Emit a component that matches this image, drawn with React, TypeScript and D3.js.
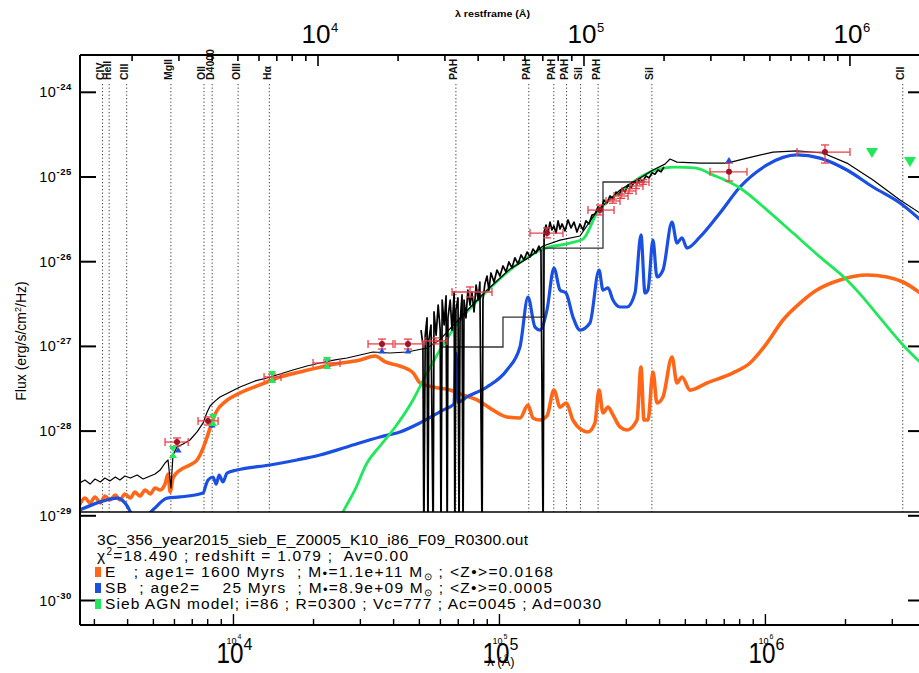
import React from "react";
import * as d3 from "d3";

type Pt = [number, number];

const REDSHIFT = 1.079;

// rest-frame wavelength (µm), flux density (erg/s/cm²/Hz)
const elliptical: Pt[] = [[0.127,1.34e-29],[0.133,1.62e-29],[0.139,1.42e-29],[0.145,1.67e-29],[0.152,1.42e-29],[0.158,1.71e-29],[0.165,1.54e-29],[0.173,1.76e-29],[0.180,1.54e-29],[0.188,1.81e-29],[0.197,1.62e-29],[0.205,1.91e-29],[0.214,1.71e-29],[0.224,2.02e-29],[0.234,1.81e-29],[0.244,2.13e-29],[0.255,2.02e-29],[0.266,2.37e-29],[0.273,3.12e-29],[0.278,1.91e-29],[0.285,2.79e-29],[0.303,3.47e-29],[0.330,3.98e-29],[0.351,4.56e-29],[0.370,6.32e-29],[0.383,8.53e-29],[0.396,1.18e-28],[0.414,1.68e-28],[0.447,2.21e-28],[0.509,2.82e-28],[0.605,3.51e-28],[0.720,4.36e-28],[0.856,4.99e-28],[1.11,6.04e-28],[1.44,6.92e-28],[1.64,7.71e-28],[1.79,6.55e-28],[2.03,5.87e-28],[2.28,4.86e-28],[2.42,3.70e-28],[2.71,3.32e-28],[3.14,3.05e-28],[3.51,2.67e-28],[3.96,2.33e-28],[4.43,1.87e-28],[5.13,1.47e-28],[5.75,1.43e-28],[6.16,2.03e-28],[6.43,1.43e-28],[6.83,1.35e-28],[7.26,1.51e-28],[7.71,3.05e-28],[8.13,1.92e-28],[8.56,2.15e-28],[9.09,1.35e-28],[9.83,1.03e-28],[10.35,9.77e-29],[11.0,1.25e-28],[11.39,3.05e-28],[11.79,1.64e-28],[12.31,1.92e-28],[12.74,1.64e-28],[13.66,1.12e-28],[14.51,1.03e-28],[15.82,1.35e-28],[16.38,5.71e-28],[16.81,1.35e-28],[17.40,1.35e-28],[18.17,4.99e-28],[18.81,2.15e-28],[19.82,2.53e-28],[21.42,7.50e-28],[22.37,3.70e-28],[23.36,4.36e-28],[25.03,3.05e-28],[29.0,3.70e-28],[36.3,4.86e-28],[42.1,6.37e-28],[48.8,1.10e-27],[56.0,2.05e-27],[64.9,3.25e-27],[75.1,4.63e-27],[91.7,6.08e-27],[115.9,6.97e-27],[137.8,6.60e-27],[158.2,5.76e-27],[188.2,4.04e-27]];

const starburst: Pt[] = [[0.127,1.17e-29],[0.152,1.46e-29],[0.176,1.62e-29],[0.188,1.42e-29],[0.200,1.02e-29],[0.214,6.79e-30],[0.230,1.02e-29],[0.244,1.24e-29],[0.271,1.62e-29],[0.303,1.67e-29],[0.370,1.86e-29],[0.379,2.31e-29],[0.386,2.65e-29],[0.403,2.87e-29],[0.414,2.37e-29],[0.425,3.03e-29],[0.439,2.51e-29],[0.455,3.20e-29],[0.496,3.47e-29],[0.660,3.98e-29],[0.834,4.56e-29],[1.017,5.22e-29],[1.285,6.50e-29],[1.711,8.53e-29],[2.033,9.77e-29],[2.418,1.25e-28],[2.951,1.77e-28],[3.245,2.09e-28],[3.302,8.36e-28],[3.360,2.20e-28],[3.632,2.53e-28],[4.319,3.32e-28],[5.134,5.27e-28],[5.745,9.84e-28],[6.160,3.83e-27],[6.545,1.69e-27],[6.833,1.56e-27],[7.259,2.69e-27],[7.714,8.43e-27],[8.125,4.63e-27],[8.557,4.27e-27],[9.092,2.22e-27],[9.660,1.56e-27],[10.53,1.89e-27],[11.39,7.98e-27],[11.79,4.63e-27],[12.31,4.90e-27],[12.85,3.53e-27],[13.66,2.92e-27],[14.51,2.92e-27],[15.55,4.27e-27],[16.38,2.07e-26],[16.96,4.27e-27],[17.40,4.63e-27],[18.17,1.80e-26],[18.81,6.60e-27],[19.82,7.98e-27],[21.42,2.94e-26],[22.37,1.66e-26],[23.36,1.91e-26],[24.39,1.45e-26],[27.31,1.96e-26],[32.45,3.76e-26],[38.6,7.62e-26],[48.8,1.39e-25],[63.2,1.82e-25],[77.1,1.67e-25],[97.4,1.21e-25],[122.1,7.62e-26],[154.2,4.93e-26],[188.2,2.94e-26]];

const agnTorus: Pt[] = [[1.159,6.79e-30],[1.242,1.11e-29],[1.377,2.02e-29],[1.528,4.20e-29],[1.711,6.67e-29],[1.914,1.03e-28],[2.276,2.33e-28],[2.525,4.36e-28],[2.875,9.08e-28],[3.420,2.05e-27],[4.245,4.27e-27],[5.272,7.98e-27],[7.015,1.41e-26],[8.858,1.66e-26],[9.913,1.85e-26],[11.19,3.76e-26],[13.66,6.65e-26],[18.17,1.18e-25],[21.99,1.31e-25],[26.1,1.28e-25],[30.5,1.06e-25],[38.6,7.41e-26],[48.8,4.07e-26],[61.1,2.18e-26],[77.1,1.14e-26],[97.4,6.08e-27],[115.9,3.34e-27],[129.7,2.17e-27],[158.2,1.04e-27],[188.2,6.04e-28]];

const totalModel: Pt[] = [[0.127,2.44e-29],[0.133,2.65e-29],[0.139,2.37e-29],[0.145,2.72e-29],[0.152,2.51e-29],[0.158,2.79e-29],[0.165,2.58e-29],[0.173,2.87e-29],[0.180,2.65e-29],[0.188,2.95e-29],[0.197,2.79e-29],[0.209,3.03e-29],[0.220,2.72e-29],[0.234,2.95e-29],[0.244,3.12e-29],[0.255,3.47e-29],[0.266,4.20e-29],[0.273,4.56e-29],[0.280,2.13e-29],[0.285,5.22e-29],[0.295,6.50e-29],[0.311,7.05e-29],[0.330,7.85e-29],[0.351,9.77e-29],[0.370,1.25e-28],[0.383,1.68e-28],[0.393,1.98e-28],[0.410,2.26e-28],[0.428,2.53e-28],[0.467,2.90e-28],[0.509,3.32e-28],[0.580,3.91e-28],[0.643,4.24e-28],[0.720,4.72e-28],[0.805,5.27e-28],[0.909,5.87e-28],[1.017,6.37e-28],[1.159,6.92e-28],[1.285,7.30e-28],[1.439,7.92e-28],[1.609,8.59e-28],[1.865,8.36e-28],[2.161,8.59e-28],[2.569,9.57e-28],[2.875,1.20e-27],[3.420,2.17e-27],[4.245,4.39e-27],[5.272,8.20e-27],[6.266,1.14e-26],[7.015,1.53e-26],[8.125,1.80e-26],[9.660,2.01e-26],[11.19,3.96e-26],[13.66,7.02e-26],[16.24,9.73e-26],[18.17,1.21e-25],[20.16,1.42e-25],[21.06,1.63e-25],[22.37,1.50e-25],[27.31,1.46e-25],[34.49,1.46e-25],[41.01,1.67e-25],[51.35,1.97e-25],[63.2,2.03e-25],[79.15,1.92e-25],[97.4,1.46e-25],[122.1,9.22e-26],[154.2,5.35e-26],[188.2,3.56e-26]];

// Spitzer IRS spectrum (noisy, with drop-outs)
const irsSpectrum: Pt[] = [[2.44,1.56e-27],[2.48,1.04e-27],[2.50,5e-30],[2.53,1.36e-27],[2.57,2.17e-27],[2.59,5e-30],[2.61,1.19e-27],[2.66,1.79e-27],[2.71,5e-30],[2.73,2.55e-27],[2.78,1.36e-27],[2.83,3.08e-27],[2.88,1.56e-27],[2.90,5e-30],[2.93,3.53e-27],[2.98,1.79e-27],[3.03,3.94e-27],[3.06,5e-30],[3.08,2.17e-27],[3.14,3.53e-27],[3.19,1.56e-27],[3.25,4.39e-27],[3.27,5e-30],[3.30,2.69e-27],[3.36,3.73e-27],[3.39,5e-30],[3.42,1.94e-27],[3.48,4.05e-27],[3.51,5e-30],[3.54,3.53e-27],[3.60,2.17e-27],[3.66,4.63e-27],[3.73,3.08e-27],[3.79,4.39e-27],[3.86,2.55e-27],[3.93,5.31e-27],[4.00,3.53e-27],[4.06,5.75e-27],[4.14,5e-30],[4.17,3.53e-27],[4.24,5.46e-27],[4.32,6.78e-27],[4.39,4.63e-27],[4.47,7.36e-27],[4.59,5.75e-27],[4.71,7.98e-27],[4.83,6.78e-27],[4.96,8.90e-27],[5.09,7.56e-27],[5.22,9.93e-27],[5.36,8.43e-27],[5.50,1.11e-26],[5.65,9.40e-27],[5.80,1.20e-26],[5.95,1.05e-26],[6.11,1.30e-26],[6.27,1.14e-26],[6.43,1.41e-26],[6.60,1.27e-26],[6.77,1.53e-26],[6.89,1.34e-26],[7.02,5e-30],[7.08,2.24e-26],[7.20,2.71e-26],[7.32,2.18e-26],[7.45,2.94e-26],[7.58,2.37e-26],[7.71,2.64e-26],[7.85,2.18e-26],[7.99,3.03e-26],[8.13,2.43e-26],[8.27,2.79e-26],[8.49,2.31e-26],[8.71,3.11e-26],[8.94,2.50e-26],[9.17,2.94e-26],[9.41,2.24e-26],[9.66,2.79e-26],[9.91,2.37e-26],[10.17,3.03e-26],[10.44,2.79e-26],[10.72,3.56e-26],[11.00,3.66e-26],[11.29,4.43e-26],[11.58,4.07e-26],[11.89,5.35e-26],[12.20,4.93e-26],[12.52,5.97e-26],[12.85,5.50e-26],[13.19,6.65e-26],[13.54,6.14e-26],[13.90,7.22e-26],[14.26,6.65e-26],[14.64,8.05e-26],[15.02,7.41e-26],[15.42,8.73e-26],[15.82,8.27e-26],[16.24,9.46e-26],[16.67,8.97e-26],[17.11,1.03e-25],[17.56,9.73e-26],[18.02,1.12e-25],[18.49,1.08e-25],[18.98,1.21e-25],[19.48,1.15e-25],[19.99,1.31e-25]];

// binned spectrum (step histogram)
const binEdges = [2.875, 4.96, 7.02, 11.79, 16.96];
const binFlux = [9.84e-28, 2.22e-27, 1.45e-26, 8.73e-26];

// photometry: λ, F, λlo, λhi, Flo, Fhi, dot
const photometry: number[][] = [
  [0.295,7.43e-29,0.266,0.325,6.67e-29,8.30e-29,1],
  [0.386,1.32e-28,0.354,0.421,1.18e-28,1.47e-28,1],
  [0.672,4.36e-28,0.627,0.726,4.01e-28,4.72e-28,0],
  [1.081,6.37e-28,0.958,1.210,5.87e-28,6.92e-28,0],
  [1.740,1.07e-27,1.542,1.914,9.31e-28,1.22e-27,1],
  [2.179,1.07e-27,1.948,2.481,9.31e-28,1.22e-27,1],
  [2.777,1.16e-27,2.525,3.055,1.07e-27,1.26e-27,0],
  [3.728,4.39e-27,3.190,4.510,3.83e-27,5.03e-27,0],
  [7.259,2.18e-26,6.266,8.338,1.91e-26,2.50e-26,1],
  [11.48,4.07e-26,10.35,12.97,3.56e-26,4.67e-26,1],
  [12.85,5.21e-26,12.10,13.66,4.9e-26,5.5e-26,0],
  [13.78,5.97e-26,12.97,14.64,5.6e-26,6.3e-26,0],
  [14.77,6.84e-26,13.90,15.69,6.4e-26,7.3e-26,0],
  [15.69,7.83e-26,14.89,16.67,7.3e-26,8.4e-26,0],
  [16.67,8.73e-26,15.82,17.56,8.2e-26,9.3e-26,0],
  [35.09,1.15e-25,29.77,41.01,8.97e-26,1.46e-25,1],
  [80.54,1.97e-25,63.2,100.0,1.46e-25,2.39e-25,1],
];
const upperLimits: Pt[] = [[121.0,1.92e-25],[168.1,1.50e-25]];
const modelPhotometry: Pt[] = [[0.298,5.98e-29],[0.400,1.18e-28],[1.740,8.83e-28],[2.179,8.83e-28],[35.09,1.59e-25]];
const filterPoints: Pt[] = [[0.285,5.66e-29],[0.403,1.35e-28],[0.672,4.36e-28],[1.081,6.37e-28]];

const lineNames = ["CIV","HeII","CIII","MgII","OII","D4000","OIII","Hα","PAH","PAH","PAH","PAH","Sil","PAH","Sil","CII"];
const lineWaves = [0.1549,0.1640,0.1909,0.2798,0.3727,0.4000,0.5007,0.6563,3.3,6.2,7.7,8.6,9.7,11.3,18.0,158];

const yExponents = [-24,-25,-26,-27,-28,-29,-30];
const axisDecades = [1e4,1e5,1e6];

const FONT = "'Liberation Sans', Arial, Helvetica, sans-serif";
const ORANGE = "#ff6617";
const BLUE = "#1a4fe3";
const GREEN = "#1fe85a";
const ERR = "#e8404a";
const DOT = "#a0142a";

export default function App() {
  const L = 80, R = 923, T = 55, B = 625, PB = 512;
  const lamMin = 0.1274, lamMax = 188.2;
  const x = d3.scaleLog().domain([lamMin, lamMax]).range([L, R]);
  const xObs = d3.scaleLog().domain([lamMin * 1e4 * (1 + REDSHIFT), lamMax * 1e4 * (1 + REDSHIFT)]).range([L, R]);
  const xRestA = d3.scaleLog().domain([lamMin * 1e4, lamMax * 1e4]).range([L, R]);
  const y = d3.scaleLog().domain([1e-29, 1e-24]).range([515.8, 92.3]);

  const smooth = d3.line<Pt>().x(d => x(d[0])).y(d => y(d[1])).curve(d3.curveMonotoneX);
  const lin = d3.line<Pt>().x(d => x(d[0])).y(d => y(d[1]));
  const histPts: Pt[] = binEdges.map((e, i) => [e, binFlux[Math.min(i, binFlux.length - 1)]] as Pt);
  const hist = d3.line<Pt>().x(d => x(d[0])).y(d => y(d[1])).curve(d3.curveStepAfter);

  const minor = (scale: any) => {
    const out: { v: number; major: boolean }[] = [];
    for (let k = 2; k <= 7; k++) for (let m = 1; m <= 9; m++) {
      const v = m * Math.pow(10, k);
      const px = scale(v);
      if (px > L + 0.5 && px < R - 0.5) out.push({ v, major: m === 1 });
    }
    return out;
  };
  const topTicks = minor(xRestA);
  const botTicks = minor(xObs);

  return (
    <svg width={919} height={673} style={{ position: "absolute", left: 0, top: 0, background: "#fff" }} fontFamily={FONT}>
      <defs>
        <clipPath id="plotClip"><rect x={L} y={T} width={R - L} height={PB - T} /></clipPath>
      </defs>
      <rect x={0} y={0} width={919} height={673} fill="#fff" />

      {/* emission line markers */}
      {lineWaves.map((w, i) => (
        <g key={"ln" + i}>
          <line x1={x(w)} x2={x(w)} y1={84} y2={PB} stroke="#444" strokeWidth={1} strokeDasharray="1.3,2.2" />
          <text transform={`translate(${x(w) + 1.5},80) rotate(-90)`} fontSize={10.5} fontWeight="bold" fill="#111">{lineNames[i]}</text>
        </g>
      ))}

      <g clipPath="url(#plotClip)" fill="none">
        <path d={smooth(elliptical) || ""} stroke={ORANGE} strokeWidth={3.6} strokeLinejoin="round" />
        <path d={smooth(starburst) || ""} stroke={BLUE} strokeWidth={3.2} strokeLinejoin="round" />
        <path d={smooth(agnTorus) || ""} stroke={GREEN} strokeWidth={2.8} />
        <path d={hist(histPts) || ""} stroke="#333" strokeWidth={1.3} />
        <path d={lin(irsSpectrum) || ""} stroke="#000" strokeWidth={1.7} strokeLinejoin="round" />
        <path d={lin(totalModel) || ""} stroke="#000" strokeWidth={1.2} strokeLinejoin="round" />
      </g>

      {/* photometry error bars */}
      {photometry.map((p, i) => {
        const cx = x(p[0]), cy = y(p[1]);
        const x0 = x(p[2]), x1 = x(p[3]);
        const y0 = y(p[5]), y1 = y(p[4]);
        return (
          <g key={"ph" + i} stroke={ERR} strokeWidth={1.3}>
            <line x1={x0} x2={x1} y1={cy} y2={cy} />
            <line x1={x0} x2={x0} y1={cy - 4} y2={cy + 4} />
            <line x1={x1} x2={x1} y1={cy - 4} y2={cy + 4} />
            <line x1={cx} x2={cx} y1={y0} y2={y1} />
            <line x1={cx - 4} x2={cx + 4} y1={y0} y2={y0} />
            <line x1={cx - 4} x2={cx + 4} y1={y1} y2={y1} />
            {p[6] ? <circle cx={cx} cy={cy} r={3} fill={DOT} stroke="none" /> : null}
          </g>
        );
      })}
      {modelPhotometry.map((p, i) => {
        const cx = x(p[0]), cy = y(p[1]);
        return <path key={"mp" + i} d={`M${cx - 3.5},${cy + 2.5}L${cx + 3.5},${cy + 2.5}L${cx},${cy - 3}Z`} fill={BLUE} />;
      })}
      {filterPoints.map((p, i) => {
        const cx = x(p[0]), cy = y(p[1]);
        return <path key={"fp" + i} d={`M${cx - 4},${cy - 6}L${cx + 4},${cy - 6}L${cx - 4},${cy + 6}L${cx + 4},${cy + 6}Z`} fill={GREEN} />;
      })}
      {upperLimits.map((p, i) => {
        const cx = x(p[0]), cy = y(p[1]);
        return <path key={"ul" + i} d={`M${cx - 6},${cy - 5}L${cx + 6},${cy - 5}L${cx},${cy + 5}Z`} fill={GREEN} />;
      })}

      {/* legend area separator */}
      <line x1={L} x2={R} y1={PB} y2={PB} stroke="#000" strokeWidth={1.3} />

      {/* axes */}
      <line x1={L} x2={L} y1={T} y2={B} stroke="#000" strokeWidth={2} />
      <line x1={R} x2={R} y1={T} y2={B} stroke="#000" strokeWidth={2} />
      <line x1={L} x2={R} y1={T} y2={T} stroke="#000" strokeWidth={2} />
      <line x1={L} x2={R} y1={B} y2={B} stroke="#000" strokeWidth={2} />

      {yExponents.map(e => {
        const yy = y(Math.pow(10, e));
        return (
          <g key={"yt" + e}>
            <line x1={L} x2={L + 16} y1={yy} y2={yy} stroke="#000" strokeWidth={2} />
            <line x1={R - 15} x2={R} y1={yy} y2={yy} stroke="#000" strokeWidth={2} />
            <text x={72} y={yy + 5} textAnchor="end" fontSize={14.5} fill="#000" letterSpacing={0.6}>
              10<tspan dy={-7} fontSize={9.5} fontWeight="bold">{String(e)}</tspan>
            </text>
          </g>
        );
      })}

      {topTicks.map((t, i) => (
        <line key={"tt" + i} x1={xRestA(t.v)} x2={xRestA(t.v)} y1={T} y2={T + (t.major ? 11 : 6)} stroke="#000" strokeWidth={1.6} />
      ))}
      {botTicks.map((t, i) => (
        <line key={"bt" + i} x1={xObs(t.v)} x2={xObs(t.v)} y1={B} y2={B - (t.major ? 11 : 6)} stroke="#000" strokeWidth={1.4} />
      ))}

      {axisDecades.map(v => {
        const cx = xRestA(v);
        const e = Math.round(Math.log10(v));
        return (
          <g key={"tl" + v}>
            <text x={cx - 2} y={43} fontSize={25} textAnchor="middle" textLength={29} lengthAdjust="spacingAndGlyphs">10</text>
            <text x={cx + 13} y={32} fontSize={13}>{e}</text>
          </g>
        );
      })}
      <text x={455} y={16.5} fontSize={9} fontWeight="bold" textLength={75} lengthAdjust="spacingAndGlyphs">λ restframe (Å)</text>

      {axisDecades.map(v => {
        const cx = xObs(v);
        const e = Math.round(Math.log10(v));
        return (
          <g key={"bl" + v}>
            <text x={cx - 3.5} y={663} fontSize={29} textAnchor="middle" textLength={27} lengthAdjust="spacingAndGlyphs">10</text>
            <text x={cx + 10} y={650} fontSize={16}>{e}</text>
            <text x={cx - 2} y={643.5} fontSize={9} textAnchor="middle">10</text>
            <text x={cx + 4} y={639} fontSize={7}>{e}</text>
          </g>
        );
      })}
      <text x={xObs(1e5) + 1.5} y={666} fontSize={13} textAnchor="middle">λ (Å)</text>

      <text transform="translate(26,341) rotate(-90)" fontSize={14} textAnchor="middle">
        Flux (erg/s/cm<tspan dy={-5} fontSize={9}>2</tspan><tspan dy={5}>/Hz)</tspan>
      </text>

      {/* legend */}
      <g fontSize={15.5} fill="#000">
        <text x={97} y={545} xmlSpace="preserve" textLength={431}>3C_356_year2015_sieb_E_Z0005_K10_i86_F09_R0300.out</text>
        <text x={97} y={561} xmlSpace="preserve" textLength={311}>χ<tspan dy={-6} fontSize={10}>2</tspan><tspan dy={6}>{"=18.490 ; redshift = 1.079 ;  Av=0.00"}</tspan></text>
        <rect x={95} y={567} width={6} height={10} fill={ORANGE} />
        <text x={105} y={577} xmlSpace="preserve" textLength={448}>{"E   ; age1= 1600 Myrs  ; M"}<tspan fontSize={13} dy={1}>•</tspan><tspan dy={-1}>{"=1.1e+11 M"}</tspan><tspan fontSize={10} dy={3}>⊙</tspan><tspan dy={-3}>{" ; <Z•>=0.0168"}</tspan></text>
        <rect x={95} y={583} width={6} height={10} fill={BLUE} />
        <text x={105} y={593} xmlSpace="preserve" textLength={447}>{"SB  ; age2=    25 Myrs  ; M"}<tspan fontSize={13} dy={1}>•</tspan><tspan dy={-1}>{"=8.9e+09 M"}</tspan><tspan fontSize={10} dy={3}>⊙</tspan><tspan dy={-3}>{" ; <Z•>=0.0005"}</tspan></text>
        <rect x={95} y={599} width={6} height={10} fill={GREEN} />
        <text x={105} y={609} xmlSpace="preserve" textLength={496}>{"Sieb AGN model; i=86 ; R=0300 ; Vc=777 ; Ac=0045 ; Ad=0030"}</text>
      </g>
    </svg>
  );
}
